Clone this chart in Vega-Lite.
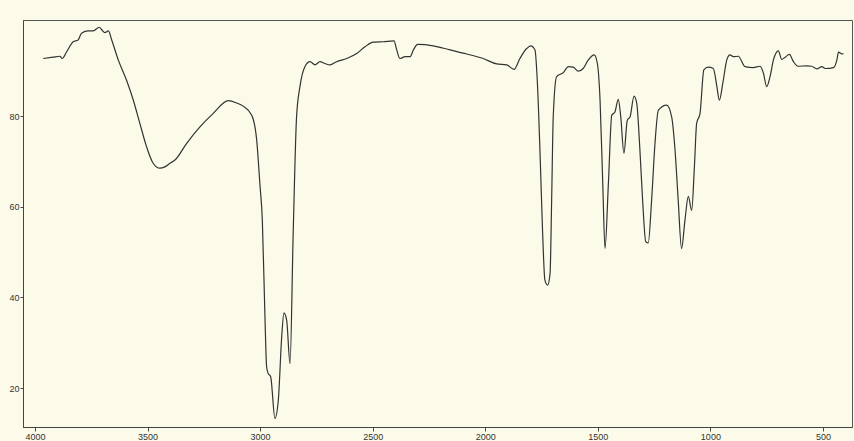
{
  "$schema": "https://vega.github.io/schema/vega-lite/v6.json",
  "width": 829,
  "height": 407,
  "autosize": {"type": "none"},
  "padding": {"left": 23, "top": 20, "right": 2, "bottom": 14},
  "background": "#fcfbea",
  "config": {
    "view": {"stroke": "#555", "strokeWidth": 1, "fill": "#fcfbea"},
    "axis": {"labelFont": "Liberation Sans", "labelFontSize": 9, "labelColor": "#333", "tickColor": "#444", "domainColor": "#444", "grid": false, "title": null}
  },
  "data": {
    "values": [
      {"wn": 3963, "t": 92.7}, {"wn": 3919, "t": 93.0}, {"wn": 3889, "t": 93.2}, {"wn": 3879, "t": 92.7},
      {"wn": 3859, "t": 94.2}, {"wn": 3830, "t": 96.4}, {"wn": 3808, "t": 96.8}, {"wn": 3793, "t": 98.3},
      {"wn": 3763, "t": 98.8}, {"wn": 3741, "t": 98.8}, {"wn": 3714, "t": 99.6}, {"wn": 3704, "t": 99.1},
      {"wn": 3689, "t": 98.4}, {"wn": 3674, "t": 98.8}, {"wn": 3659, "t": 96.8}, {"wn": 3630, "t": 92.4},
      {"wn": 3593, "t": 87.9}, {"wn": 3563, "t": 83.5}, {"wn": 3534, "t": 78.4}, {"wn": 3504, "t": 73.2},
      {"wn": 3475, "t": 69.6}, {"wn": 3445, "t": 68.5}, {"wn": 3423, "t": 68.8}, {"wn": 3400, "t": 69.6},
      {"wn": 3378, "t": 70.3}, {"wn": 3326, "t": 74.0}, {"wn": 3267, "t": 77.6}, {"wn": 3208, "t": 80.6},
      {"wn": 3141, "t": 83.4}, {"wn": 3104, "t": 82.9}, {"wn": 3075, "t": 82.2}, {"wn": 3037, "t": 80.2},
      {"wn": 3015, "t": 74.7}, {"wn": 3001, "t": 65.1}, {"wn": 2990, "t": 57.0}, {"wn": 2978, "t": 35.0},
      {"wn": 2971, "t": 24.7}, {"wn": 2964, "t": 23.2}, {"wn": 2953, "t": 22.5}, {"wn": 2934, "t": 13.3},
      {"wn": 2919, "t": 17.3}, {"wn": 2904, "t": 31.3}, {"wn": 2894, "t": 36.6}, {"wn": 2882, "t": 35.0},
      {"wn": 2867, "t": 25.4}, {"wn": 2853, "t": 54.1}, {"wn": 2838, "t": 79.8}, {"wn": 2823, "t": 86.5},
      {"wn": 2801, "t": 90.9}, {"wn": 2778, "t": 92.0}, {"wn": 2756, "t": 91.3}, {"wn": 2734, "t": 92.0},
      {"wn": 2712, "t": 91.6}, {"wn": 2690, "t": 91.3}, {"wn": 2660, "t": 92.0}, {"wn": 2615, "t": 92.7},
      {"wn": 2571, "t": 93.8}, {"wn": 2534, "t": 95.3}, {"wn": 2497, "t": 96.3}, {"wn": 2453, "t": 96.4},
      {"wn": 2405, "t": 96.6}, {"wn": 2393, "t": 94.6}, {"wn": 2379, "t": 92.7}, {"wn": 2356, "t": 93.1},
      {"wn": 2334, "t": 93.1}, {"wn": 2319, "t": 94.6}, {"wn": 2300, "t": 95.8}, {"wn": 2231, "t": 95.5},
      {"wn": 2156, "t": 94.6}, {"wn": 2082, "t": 93.7}, {"wn": 2009, "t": 92.7}, {"wn": 1949, "t": 91.5},
      {"wn": 1905, "t": 91.3}, {"wn": 1872, "t": 90.3}, {"wn": 1846, "t": 92.7}, {"wn": 1816, "t": 94.9},
      {"wn": 1798, "t": 95.5}, {"wn": 1779, "t": 94.6}, {"wn": 1769, "t": 88.0}, {"wn": 1757, "t": 72.5},
      {"wn": 1745, "t": 54.1}, {"wn": 1735, "t": 43.8}, {"wn": 1723, "t": 42.7}, {"wn": 1712, "t": 45.3},
      {"wn": 1705, "t": 61.5}, {"wn": 1698, "t": 79.8}, {"wn": 1683, "t": 88.7}, {"wn": 1653, "t": 89.6},
      {"wn": 1631, "t": 90.9}, {"wn": 1609, "t": 90.8}, {"wn": 1587, "t": 89.9}, {"wn": 1565, "t": 90.5},
      {"wn": 1542, "t": 92.4}, {"wn": 1516, "t": 93.5}, {"wn": 1502, "t": 91.6}, {"wn": 1490, "t": 83.5},
      {"wn": 1478, "t": 65.1}, {"wn": 1468, "t": 50.8}, {"wn": 1453, "t": 65.1}, {"wn": 1438, "t": 80.2},
      {"wn": 1424, "t": 80.9}, {"wn": 1409, "t": 83.7}, {"wn": 1398, "t": 79.8}, {"wn": 1384, "t": 71.8},
      {"wn": 1369, "t": 79.1}, {"wn": 1357, "t": 79.8}, {"wn": 1339, "t": 84.4}, {"wn": 1327, "t": 82.8},
      {"wn": 1313, "t": 72.5}, {"wn": 1301, "t": 61.5}, {"wn": 1287, "t": 52.3}, {"wn": 1276, "t": 52.0},
      {"wn": 1261, "t": 61.5}, {"wn": 1246, "t": 74.0}, {"wn": 1231, "t": 81.3}, {"wn": 1194, "t": 82.4},
      {"wn": 1172, "t": 79.8}, {"wn": 1157, "t": 72.5}, {"wn": 1143, "t": 61.5}, {"wn": 1128, "t": 50.8},
      {"wn": 1113, "t": 57.0}, {"wn": 1098, "t": 62.3}, {"wn": 1083, "t": 59.2}, {"wn": 1071, "t": 68.8},
      {"wn": 1061, "t": 78.4}, {"wn": 1046, "t": 80.6}, {"wn": 1029, "t": 90.2}, {"wn": 1010, "t": 90.8},
      {"wn": 987, "t": 90.5}, {"wn": 972, "t": 86.8}, {"wn": 960, "t": 83.5}, {"wn": 945, "t": 87.2},
      {"wn": 927, "t": 92.4}, {"wn": 913, "t": 93.5}, {"wn": 898, "t": 93.1}, {"wn": 876, "t": 93.2},
      {"wn": 846, "t": 90.9}, {"wn": 809, "t": 90.7}, {"wn": 779, "t": 91.0}, {"wn": 764, "t": 89.4},
      {"wn": 750, "t": 86.5}, {"wn": 735, "t": 88.7}, {"wn": 720, "t": 92.4}, {"wn": 698, "t": 94.4},
      {"wn": 683, "t": 92.5}, {"wn": 668, "t": 93.0}, {"wn": 649, "t": 93.6}, {"wn": 631, "t": 92.0},
      {"wn": 610, "t": 91.0}, {"wn": 572, "t": 91.1}, {"wn": 550, "t": 91.0}, {"wn": 527, "t": 90.4},
      {"wn": 505, "t": 90.9}, {"wn": 490, "t": 90.5}, {"wn": 453, "t": 90.7}, {"wn": 438, "t": 92.4},
      {"wn": 431, "t": 94.1}, {"wn": 416, "t": 93.7}, {"wn": 409, "t": 93.8}
    ]
  },
  "mark": {"type": "line", "color": "#333", "strokeWidth": 1.2, "interpolate": "monotone"},
  "encoding": {
    "x": {
      "field": "wn", "type": "quantitative",
      "scale": {"domain": [4053, 371], "nice": false, "zero": false},
      "axis": {"values": [4000, 3500, 3000, 2500, 2000, 1500, 1000, 500], "tickSize": 4, "labelPadding": 1, "format": "d"}
    },
    "y": {
      "field": "t", "type": "quantitative",
      "scale": {"domain": [11.4, 101.2], "nice": false, "zero": false},
      "axis": {"values": [20, 40, 60, 80], "tickSize": 3, "labelPadding": 1}
    }
  }
}
